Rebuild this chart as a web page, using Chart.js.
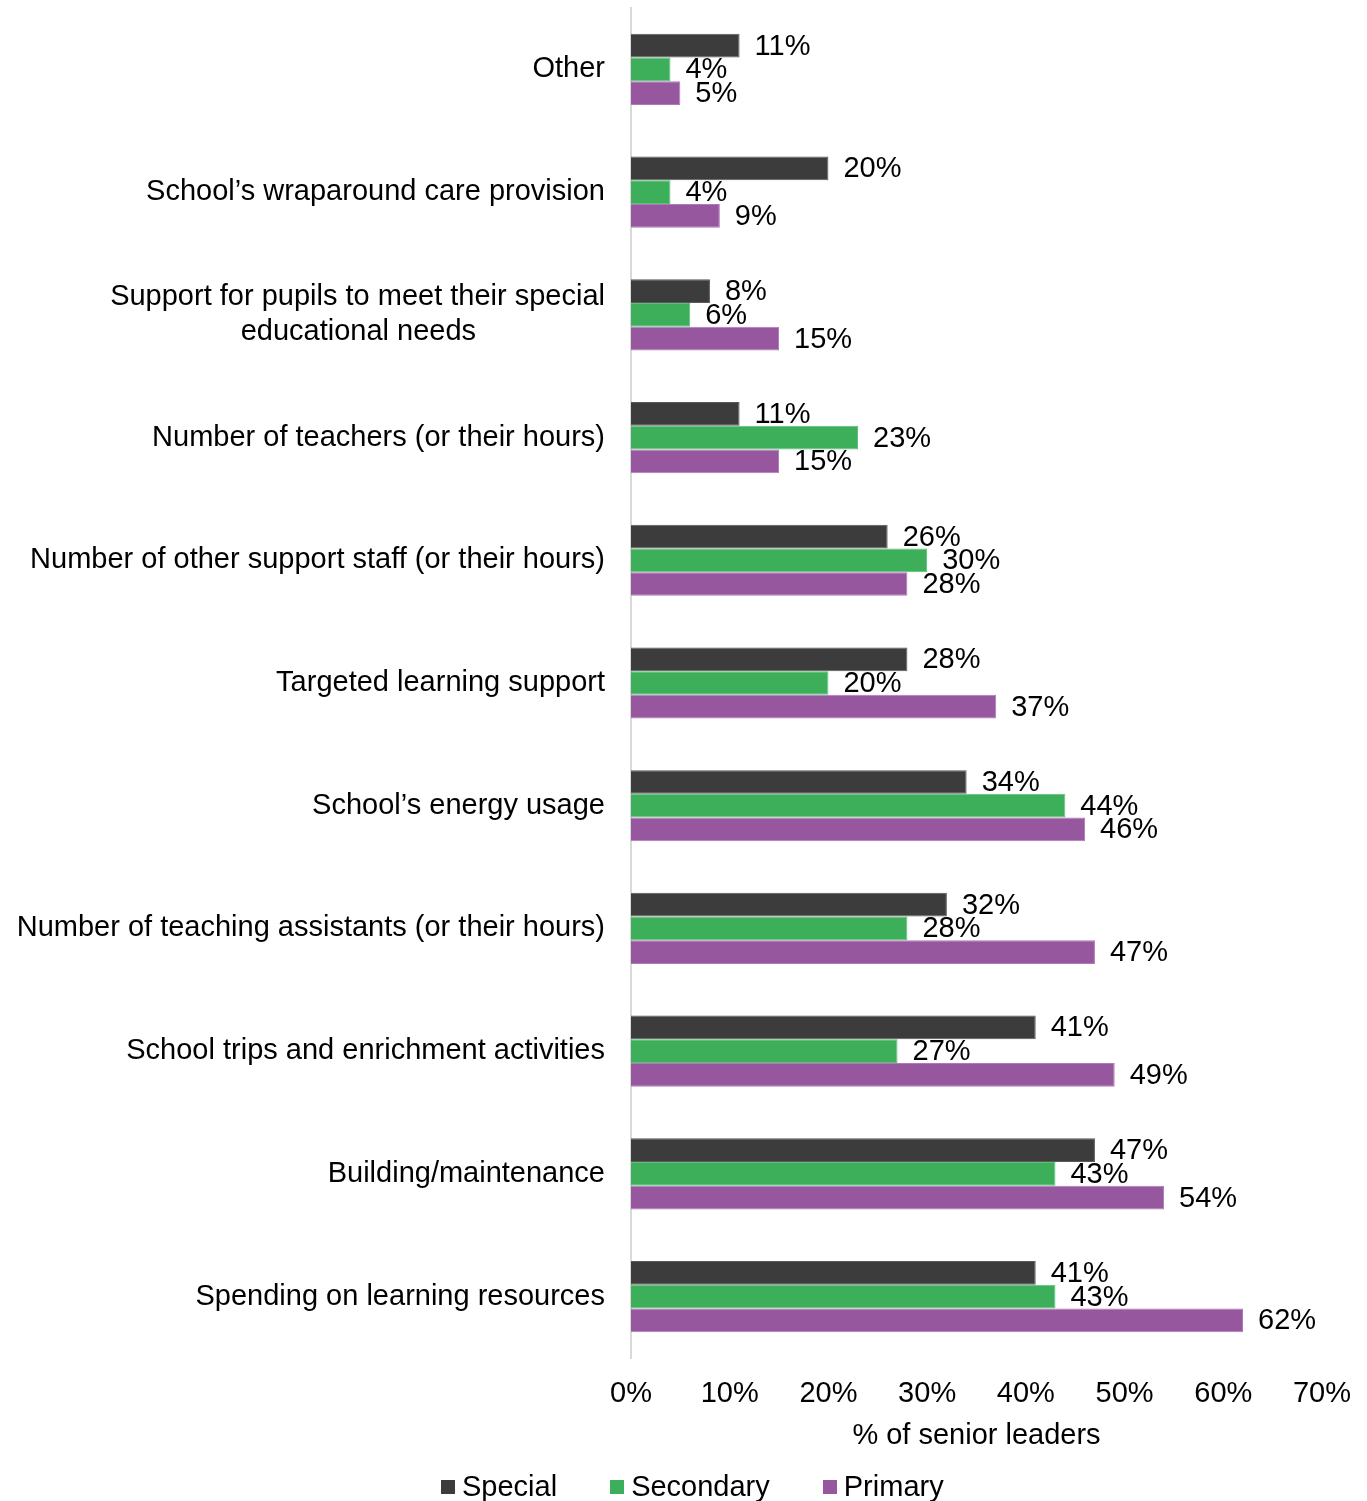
<!DOCTYPE html>
<html>
<head>
<meta charset="utf-8">
<title>Spending areas cut - senior leaders</title>
<script src="https://cdn.jsdelivr.net/npm/chart.js@4.4.1/dist/chart.umd.min.js"></script>
<style>
    html, body { margin: 0; padding: 0; background: #fff; }
    #wrap { position: relative; width: 1367px; height: 1501px; }
    #legend {
        position: absolute; left: 441px; top: 1469px;
        display: flex; gap: 53px;
        font-family: 'Liberation Sans', Arial, sans-serif; font-size: 29px; color: #000;
    }
    #legend .item { display: flex; align-items: center; gap: 7px; line-height: 34px; }
    #legend .box { width: 14px; height: 14px; margin-top: 2px; }
</style>
</head>
<body>
<div id="wrap">
    <canvas id="cutsChart"></canvas>
    <div id="legend"></div>
</div>
<script>
// --- 1. DATA ---
const categories = [
    "Other",
    "School\u2019s wraparound care provision",
    ["Support for pupils to meet their special", "educational needs" + " ".repeat(16)],
    "Number of teachers (or their hours)",
    "Number of other support staff (or their hours)",
    "Targeted learning support",
    "School\u2019s energy usage",
    "Number of teaching assistants (or their hours)",
    "School trips and enrichment activities",
    "Building/maintenance",
    "Spending on learning resources"
];
const specialValues   = [11, 20, 8, 11, 26, 28, 34, 32, 41, 47, 41];
const secondaryValues = [4, 4, 6, 23, 30, 20, 44, 28, 27, 43, 43];
const primaryValues   = [5, 9, 15, 15, 28, 37, 46, 47, 49, 54, 62];
const xTicks = [0, 10, 20, 30, 40, 50, 60, 70];

// --- 2. STYLE ---
const FONT = "'Liberation Sans', Arial, sans-serif";
const FONT_SIZE = 29;
Chart.defaults.font.family = FONT;
Chart.defaults.font.size = FONT_SIZE;
Chart.defaults.color = "#000";

// --- 3. Value labels at bar ends ---
const barLabels = {
    id: "barLabels",
    afterDatasetsDraw(chart) {
        const ctx = chart.ctx;
        ctx.save();
        ctx.font = FONT_SIZE + "px " + FONT;
        ctx.fillStyle = "#000";
        ctx.textAlign = "left";
        ctx.textBaseline = "middle";
        chart.data.datasets.forEach((ds, i) => {
            chart.getDatasetMeta(i).data.forEach((bar, j) => {
                ctx.fillText(ds.data[j] + "%", bar.x + 15, bar.y + 1);
            });
        });
        ctx.restore();
    }
};

// --- 4. HTML legend built from the datasets ---
const htmlLegend = {
    id: "htmlLegend",
    afterUpdate(chart) {
        const box = document.getElementById("legend");
        box.innerHTML = "";
        chart.data.datasets.forEach(ds => {
            const item = document.createElement("div");
            item.className = "item";
            item.innerHTML = `<span class="box" style="background:${ds.backgroundColor}"></span><span>${ds.label}</span>`;
            box.appendChild(item);
        });
    }
};

// --- 5. Chart ---
new Chart(document.getElementById("cutsChart"), {
    type: "bar",
    data: {
        labels: categories,
        datasets: [
            { label: "Special", data: specialValues, backgroundColor: "#3c3c3c", borderColor: "#5a5a5a", borderWidth: 1 },
            { label: "Secondary", data: secondaryValues, backgroundColor: "#3daf5b", borderColor: "#5cc079", borderWidth: 1 },
            { label: "Primary", data: primaryValues, backgroundColor: "#96579f", borderColor: "#ad7bb4", borderWidth: 1 }
        ]
    },
    options: {
        indexAxis: "y",
        responsive: true,
        maintainAspectRatio: false,
        animation: false,
        categoryPercentage: 0.58,
        barPercentage: 1.0,
        layout: { padding: { top: 8, right: 45, left: 10, bottom: 0 } },
        plugins: {
            tooltip: { enabled: false },
            legend: { display: false }
        },
        scales: {
            x: {
                min: 0,
                max: 70,
                afterBuildTicks: (scale) => { scale.ticks = xTicks.map(v => ({ value: v })); },
                afterFit: (scale) => { scale.height = 143; scale.paddingLeft = 0; scale.paddingRight = 0; },
                ticks: { callback: v => v + "%", padding: 19, maxRotation: 0 },
                grid: { display: false, drawTicks: false },
                border: { display: false },
                title: { display: true, text: "% of senior leaders", padding: { top: 4, bottom: 48 } }
            },
            y: {
                afterFit: (scale) => { scale.width = 621; scale.paddingTop = 0; scale.paddingBottom = 0; },
                ticks: { padding: 26, autoSkip: false },
                grid: { display: false, drawTicks: false },
                border: { display: true, color: "#d9d9d9", width: 2 }
            }
        }
    },
    plugins: [barLabels, htmlLegend]
});
</script>
</body>
</html>
